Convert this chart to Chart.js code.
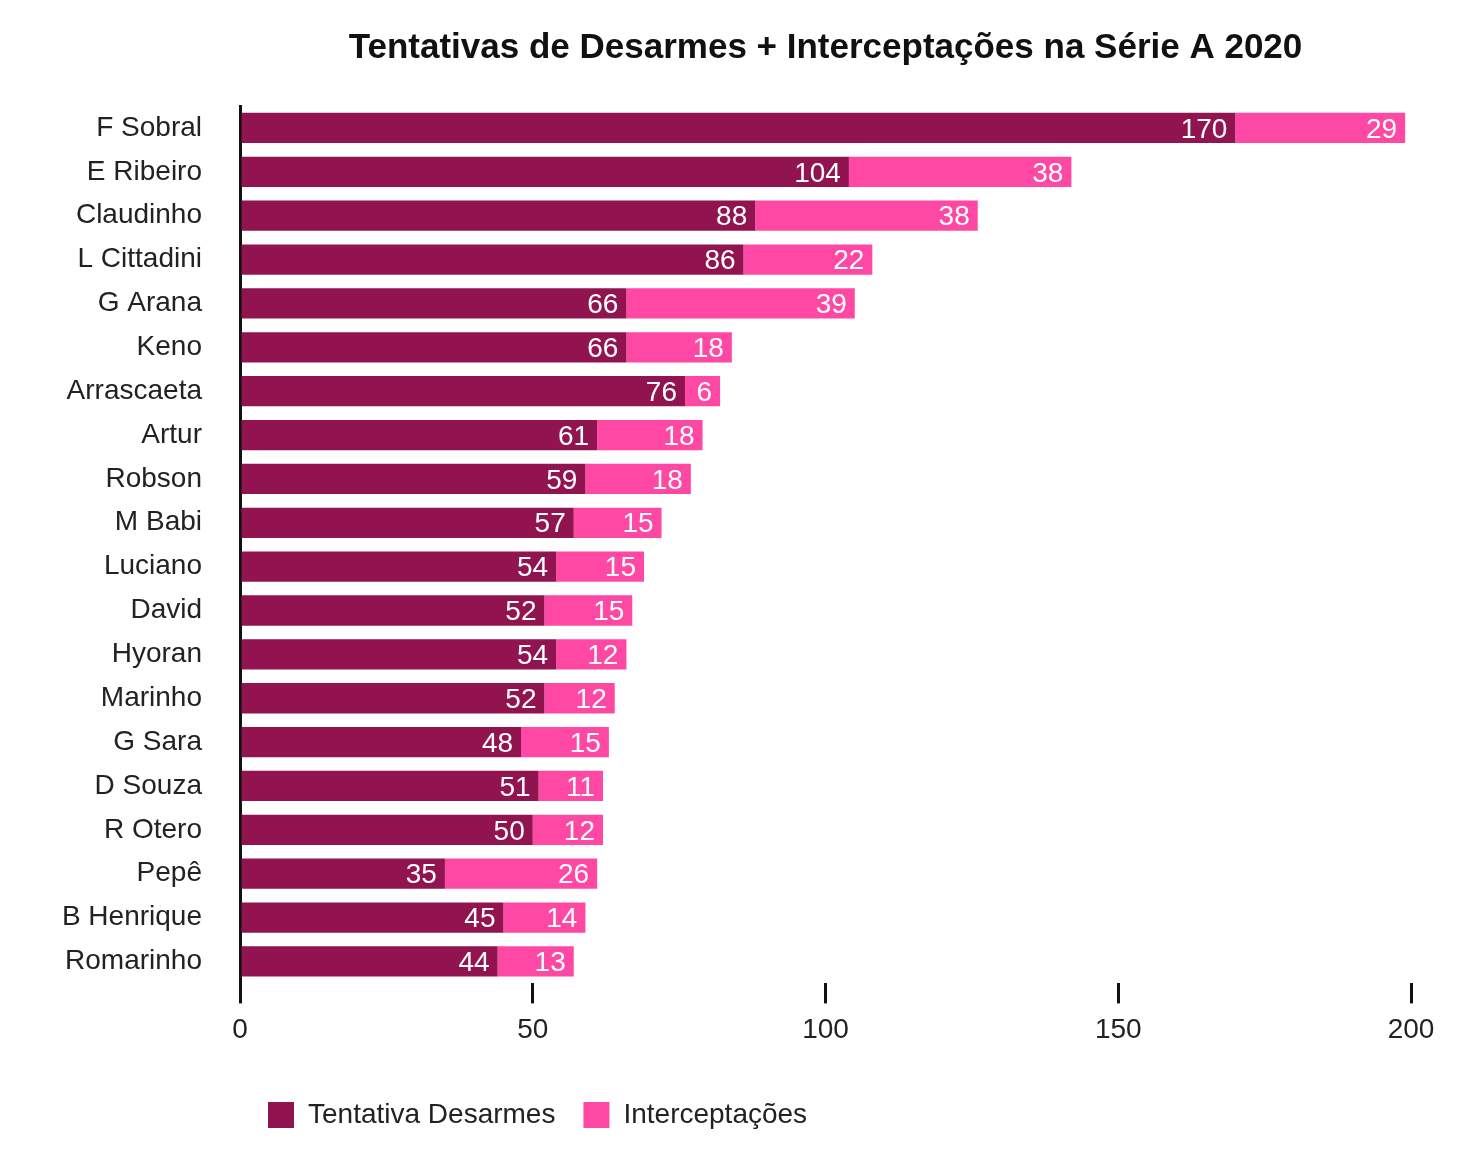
<!DOCTYPE html>
<html>
<head>
<meta charset="utf-8">
<script src="https://cdn.jsdelivr.net/npm/chart.js@4"></script>
<style>
  html, body { margin: 0; padding: 0; background: #fff; }
  #wrap { width: 1460px; height: 1153px; }
</style>
</head>
<body>
<div id="wrap"><canvas id="desarmesChart"></canvas></div>
<script>
const players = ['F Sobral', 'E Ribeiro', 'Claudinho', 'L Cittadini', 'G Arana', 'Keno', 'Arrascaeta', 'Artur', 'Robson', 'M Babi',
  'Luciano', 'David', 'Hyoran', 'Marinho', 'G Sara', 'D Souza', 'R Otero', 'Pepê', 'B Henrique', 'Romarinho'];
const desarmes = [170, 104, 88, 86, 66, 66, 76, 61, 59, 57, 54, 52, 54, 52, 48, 51, 50, 35, 45, 44];
const interceptacoes = [29, 38, 38, 22, 39, 18, 6, 18, 18, 15, 15, 15, 12, 12, 15, 11, 12, 26, 14, 13];
const xTicks = [0, 50, 100, 150, 200];

const FONT = '"Liberation Sans", Arial, Helvetica, sans-serif';
const titleText = 'Tentativas de Desarmes + Interceptações na Série A 2020';

// title centred over the plot area, not the whole canvas
const titlePlugin = {
    id: 'plotTitle',
    afterDraw(chart) {
        const { ctx, chartArea } = chart;
        ctx.save();
        ctx.font = 'bold 35px ' + FONT;
        ctx.fillStyle = '#111';
        ctx.textAlign = 'center';
        ctx.textBaseline = 'middle';
        ctx.fillText(titleText, (chartArea.left + chartArea.right) / 2, 48);
        ctx.restore();
    }
};

// white value at the end of each segment
const valueLabels = {
    id: 'valueLabels',
    afterDatasetsDraw(chart) {
        const { ctx } = chart;
        ctx.save();
        ctx.font = '28px ' + FONT;
        ctx.fillStyle = '#fff';
        ctx.textAlign = 'right';
        ctx.textBaseline = 'middle';
        chart.data.datasets.forEach((ds, i) => {
            chart.getDatasetMeta(i).data.forEach((bar, j) => {
                ctx.fillText(ds.data[j], bar.x - 8, bar.y + 2);
            });
        });
        ctx.restore();
    }
};

new Chart(document.getElementById('desarmesChart'), {
    type: 'bar',
    data: {
        labels: players,
        datasets: [{
            label: 'Tentativa Desarmes',
            data: desarmes,
            backgroundColor: 'rgb(145, 20, 80)'
        }, {
            label: 'Interceptações',
            data: interceptacoes,
            backgroundColor: 'rgb(255, 72, 163)'
        }]
    },
    options: {
        indexAxis: 'y',
        responsive: true,
        maintainAspectRatio: false,
        animation: false,
        barPercentage: 1,
        categoryPercentage: 0.69,
        layout: { padding: { top: 106, right: 49, left: 0, bottom: 14 } },
        scales: {
            x: {
                stacked: true,
                min: 0,
                max: 200,
                afterBuildTicks: (scale) => { scale.ticks = xTicks.map(v => ({ value: v })); },
                afterFit: (scale) => { scale.height += 16; },
                grid: {
                    drawOnChartArea: false,
                    drawTicks: true,
                    tickLength: 20,
                    color: '#111',
                    lineWidth: 3
                },
                border: { display: false },
                ticks: {
                    padding: 10,
                    color: '#222',
                    font: { family: FONT, size: 28 }
                }
            },
            y: {
                stacked: true,
                afterFit: (scale) => { scale.width = 240; },
                grid: { display: false },
                border: { display: true, color: '#111', width: 3 },
                ticks: {
                    padding: 30,
                    color: '#222',
                    font: { family: FONT, size: 28 }
                }
            }
        },
        plugins: {
            title: { display: false },
            tooltip: { enabled: false },
            legend: {
                position: 'bottom',
                align: 'start',
                fullSize: false,
                labels: {
                    boxWidth: 26,
                    boxHeight: 26,
                    padding: 28,
                    color: '#222',
                    font: { family: FONT, size: 28 }
                }
            }
        }
    },
    plugins: [titlePlugin, valueLabels]
});
</script>
</body>
</html>
